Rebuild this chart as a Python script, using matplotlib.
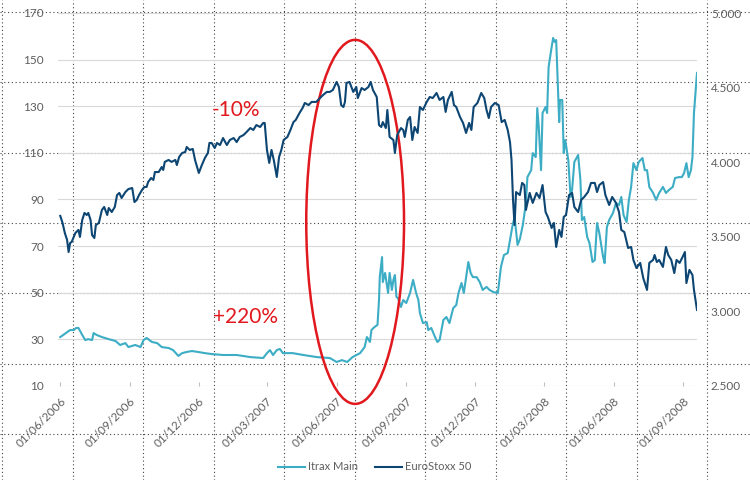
import matplotlib
matplotlib.use("Agg")
import matplotlib.pyplot as plt
import matplotlib.dates as mdates
from matplotlib.patches import Ellipse
import numpy as np
import pandas as pd

plt.rcParams["font.family"] = ["Lato", "DejaVu Sans"]

start = pd.Timestamp("2006-06-01")

# EuroStoxx 50 (right axis): days since 01/06/2006 and index level
stoxx_day = [0, 3, 6, 9, 11, 13, 15, 20, 24, 26, 29, 32, 35, 37, 40, 42, 45, 47, 51, 55,
             58, 62, 64, 68, 72, 75, 78, 81, 86, 90, 95, 98, 101, 104, 108, 111, 114, 116, 120, 123,
             125, 130, 134, 136, 138, 143, 147, 152, 154, 157, 161, 165, 167, 171, 175, 178, 180, 183, 187, 191,
             195, 197, 200, 204, 207, 211, 215, 220, 224, 229, 233, 237, 242, 246, 251, 255, 259, 264, 268, 270,
             273, 276, 279, 282, 286, 289, 292, 295, 300, 304, 308, 311, 316, 320, 323, 328, 332, 338, 343, 347,
             352, 356, 360, 365, 368, 371, 374, 376, 378, 382, 385, 387, 391, 393, 398, 402, 407, 410, 413, 418,
             421, 424, 426, 430, 432, 435, 440, 442, 445, 450, 453, 455, 459, 462, 465, 468, 472, 475, 479, 484,
             488, 492, 497, 501, 506, 509, 512, 517, 520, 523, 528, 532, 536, 540, 543, 546, 551, 556, 560, 563,
             566, 569, 574, 579, 583, 587, 591, 594, 596, 598, 600, 602, 607, 610, 613, 615, 620, 624, 629, 633,
             637, 641, 644, 649, 652, 655, 659, 662, 665, 668, 672, 676, 679, 684, 688, 692, 697, 701, 706, 709,
             712, 717, 720, 725, 729, 734, 738, 741, 745, 750, 754, 757, 761, 766, 770, 775, 778, 783, 785, 788,
             791, 796, 800, 803, 807, 811, 814, 818, 822, 825, 827, 831, 835, 837, 841]
stoxx_val = [3640, 3593, 3526, 3479, 3398, 3459, 3465, 3526, 3546, 3499, 3613, 3660, 3646, 3660, 3613, 3512, 3492, 3579, 3593, 3680,
             3700, 3646, 3693, 3666, 3700, 3780, 3794, 3760, 3800, 3820, 3827, 3733, 3747, 3780, 3814, 3834, 3834, 3867, 3894, 3881,
             3934, 3934, 3968, 3948, 4002, 4015, 4002, 4015, 3981, 4035, 4062, 4068, 4102, 4082, 4089, 4015, 3981, 3928, 3981, 4028,
             4062, 4129, 4129, 4095, 4129, 4115, 4162, 4115, 4149, 4162, 4135, 4169, 4182, 4202, 4229, 4216, 4249, 4236, 4263, 4263,
             4082, 3995, 4082, 4015, 3901, 4035, 4082, 4149, 4169, 4216, 4269, 4283, 4330, 4363, 4397, 4383, 4404, 4404, 4430, 4450,
             4471, 4471, 4484, 4538, 4504, 4383, 4370, 4404, 4531, 4538, 4497, 4471, 4504, 4430, 4497, 4484, 4504, 4538, 4484, 4437,
             4249, 4236, 4269, 4229, 4350, 4169, 4149, 4062, 4182, 4229, 4216, 4169, 4283, 4303, 4149, 4236, 4196, 4370, 4350, 4404,
             4437, 4430, 4464, 4417, 4437, 4337, 4417, 4471, 4383, 4370, 4303, 4263, 4196, 4263, 4216, 4370, 4397, 4464, 4430, 4350,
             4296, 4370, 4397, 4383, 4269, 4283, 4216, 4135, 4015, 3747, 3579, 3800, 3780, 3861, 3847, 3680, 3794, 3727, 3794, 3760,
             3847, 3666, 3633, 3559, 3593, 3432, 3546, 3499, 3633, 3646, 3780, 3794, 3700, 3666, 3747, 3767, 3800, 3861, 3861, 3800,
             3847, 3867, 3780, 3713, 3767, 3727, 3666, 3546, 3532, 3425, 3432, 3345, 3291, 3325, 3224, 3144, 3325, 3345, 3378, 3331,
             3345, 3298, 3432, 3378, 3345, 3257, 3345, 3325, 3365, 3398, 3190, 3278, 3244, 3144, 3010]

# iTraxx Main (left axis): days since 01/06/2006 and spread
itrax_day = [0, 4, 9, 13, 18, 21, 24, 29, 33, 37, 42, 44, 48, 55, 64, 73, 79, 86, 90, 99,
             106, 110, 114, 121, 128, 134, 143, 149, 156, 161, 167, 174, 182, 191, 200, 215, 233, 251, 268, 273,
             277, 281, 286, 290, 294, 307, 321, 339, 356, 365, 372, 379, 386, 396, 402, 405, 409, 411, 415, 419,
             421, 422, 425, 426, 429, 431, 433, 435, 438, 440, 442, 444, 446, 450, 453, 457, 462, 466, 470, 473,
             475, 479, 484, 486, 490, 495, 498, 501, 506, 510, 514, 519, 523, 526, 530, 533, 536, 539, 542, 545,
             550, 554, 558, 563, 567, 572, 578, 582, 586, 591, 594, 597, 600, 604, 607, 611, 615, 617, 622, 624,
             628, 630, 632, 635, 637, 641, 643, 645, 649, 651, 653, 655, 657, 659, 660, 663, 665, 667, 671, 674,
             676, 679, 684, 687, 689, 692, 696, 699, 703, 706, 709, 712, 717, 719, 722, 725, 730, 734, 738, 741,
             744, 748, 751, 754, 757, 761, 764, 769, 772, 775, 778, 783, 787, 791, 796, 800, 804, 809, 812, 817,
             821, 824, 827, 830, 833, 835, 837, 841]
itrax_val = [31.0, 31.9, 33.1, 34.0, 34.0, 34.9, 34.9, 31.9, 29.7, 30.1, 29.7, 32.7, 31.9, 31.0, 30.1, 29.3, 27.6, 28.4, 26.7, 27.6,
             26.7, 29.7, 30.6, 28.9, 28.4, 26.7, 26.3, 25.4, 22.9, 24.1, 24.6, 25.0, 24.6, 24.1, 23.7, 23.3, 23.3, 22.4, 22.0, 24.1,
             25.4, 23.3, 25.4, 25.9, 24.1, 24.1, 23.3, 22.4, 22.0, 20.3, 21.1, 20.3, 22.4, 24.1, 26.7, 31.0, 28.9, 34.0, 35.3, 36.2,
             46.9, 56.7, 65.3, 54.6, 58.5, 54.2, 49.9, 58.5, 51.2, 55.5, 57.6, 48.2, 47.7, 43.9, 46.9, 45.6, 49.9, 55.5, 49.9, 46.9,
             41.3, 37.0, 37.4, 34.0, 34.9, 31.0, 28.9, 29.7, 38.3, 39.6, 37.0, 43.4, 44.7, 49.9, 54.2, 49.9, 56.7, 63.2, 58.5, 56.7,
             56.7, 54.6, 51.2, 52.5, 51.2, 50.3, 49.9, 61.0, 66.2, 67.0, 72.6, 78.2, 82.5, 70.5, 73.0, 79.1, 88.5, 99.6, 102.6, 109.9,
             108.2, 129.2, 121.1, 102.6, 127.1, 129.7, 127.1, 146.8, 155.4, 159.3, 157.6, 158.4, 141.3, 123.2, 132.7, 132.7, 109.9, 115.5, 106.9, 91.1,
             94.1, 106.1, 109.1, 98.4, 81.2, 82.5, 73.9, 71.3, 63.2, 64.0, 79.9, 75.6, 65.3, 62.7, 78.2, 81.2, 84.2, 88.5, 87.6, 91.1,
             83.3, 80.3, 89.8, 95.4, 105.6, 102.6, 106.1, 107.8, 102.6, 102.6, 95.4, 92.8, 89.8, 92.8, 95.4, 92.8, 94.1, 95.4, 99.2, 99.6,
             99.6, 101.4, 105.6, 99.6, 102.6, 108.2, 127.1, 144.3]

tick_dates = ["2006-06-01", "2006-09-01", "2006-12-01", "2007-03-01", "2007-06-01",
              "2007-09-01", "2007-12-01", "2008-03-01", "2008-06-01", "2008-09-01"]
left_ticks = [10, 30, 50, 70, 90, 110, 130, 150, 170]
right_ticks = [2500, 3000, 3500, 4000, 4500, 5000]

teal = "#3CADC4"
navy = "#0D4673"
red = "#E1191E"
grey = "#5E5E5E"

stoxx_dates = start + pd.to_timedelta(stoxx_day, unit="D")
itrax_dates = start + pd.to_timedelta(itrax_day, unit="D")

fig = plt.figure(figsize=(7.5, 4.8), dpi=100)

# dotted layout grid in the background
bg = fig.add_axes([0, 0, 1, 1], zorder=-5)
bg.set_xlim(0, 750)
bg.set_ylim(480, 0)
bg.axis("off")
for gx in np.arange(2, 750, 70.5):
    bg.axvline(gx, color="#444444", lw=0.8, linestyle=(0, (1, 2.4)))
for gy in np.arange(12, 480, 70.3):
    bg.axhline(gy, color="#444444", lw=0.8, linestyle=(0, (1, 2.4)))

ax = fig.add_axes([58 / 750, 1 - 386 / 480, (697 - 58) / 750, (386 - 13) / 480])
ax.set_facecolor("none")
ax2 = ax.twinx()

ax.plot(itrax_dates, itrax_val, color=teal, lw=1.5, label="Itrax Main", zorder=3)
ax2.plot(stoxx_dates, stoxx_val, color=navy, lw=1.5, label="EuroStoxx 50", zorder=3)

ax.set_ylim(10, 170)
ax.set_yticks(left_ticks)
ax2.set_ylim(2500, 5000)
ax2.set_yticks(right_ticks)
ax2.set_yticklabels([f"{v:,}".replace(",", ".") for v in right_ticks])

ax.set_xlim(start - pd.Timedelta(days=3), start + pd.Timedelta(days=841))
ax.set_xticks(pd.to_datetime(tick_dates))
ax.xaxis.set_major_formatter(mdates.DateFormatter("%d/%m/%Y"))
for lab in ax.get_xticklabels():
    lab.set_rotation(45)
    lab.set_ha("right")
    lab.set_va("top")
    lab.set_rotation_mode("anchor")

ax.grid(axis="y", color="#D9D9D9", lw=0.8)
ax.set_axisbelow(True)
for a in (ax, ax2):
    for s in a.spines.values():
        s.set_visible(False)
ax.tick_params(axis="x", direction="in", length=3, color="#BFBFBF", labelsize=8.5,
               labelcolor=grey, pad=7)
ax.tick_params(axis="y", length=0, labelsize=8.5, labelcolor=grey, pad=10)
ax2.tick_params(axis="y", length=0, labelsize=8.5, labelcolor=grey, pad=10)

# annotations
ell = Ellipse((0.465, 0.44), 0.153, 0.976, transform=ax.transAxes, fill=False,
              edgecolor=red, lw=1.8, clip_on=False, zorder=5)
ax.add_patch(ell)
ax.text(0.279, 0.740, "-10%", transform=ax.transAxes, color=red, fontsize=15,
        ha="center", va="center")
ax.text(0.293, 0.185, "+220%", transform=ax.transAxes, color=red, fontsize=15,
        ha="center", va="center")

h1, l1 = ax.get_legend_handles_labels()
h2, l2 = ax2.get_legend_handles_labels()
fig.legend(h1 + h2, l1 + l2, loc="center", bbox_to_anchor=(375 / 750, 1 - 467 / 480),
           ncol=2, frameon=False, fontsize=8, labelcolor=grey, handlelength=2.4,
           columnspacing=1.5, handletextpad=0.3)

fig.savefig("out.png", dpi=100)
